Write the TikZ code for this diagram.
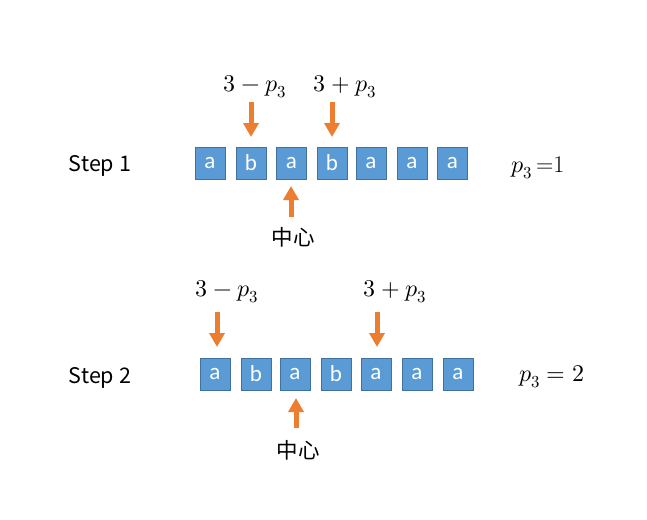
\documentclass[tikz,border=0pt]{standalone}
\usepackage{fontspec}
\usepackage{unicode-math}
\setmathfont{Latin Modern Math}
\setsansfont{Carlito}
\newfontfamily\cjk{Noto Sans CJK SC}
\usetikzlibrary{arrows.meta}
\definecolor{boxfill}{HTML}{5B9BD5}
\definecolor{boxline}{HTML}{41719C}
\definecolor{arr}{HTML}{ED7D31}
\begin{document}
\begin{tikzpicture}[x=1pt,y=-1pt,
  cell/.style={draw=boxline,fill=boxfill,line width=0.9pt,minimum width=30pt,minimum height=32pt,inner sep=0pt,text=white,font=\sffamily\fontsize{23}{25}\selectfont},
  lab/.style={font=\cjk\fontsize{21.5}{24}\selectfont,inner sep=0pt},
  mlab/.style={font=\fontsize{24}{26}\selectfont,inner sep=0pt},
  bigarrow/.style={draw=arr,line width=5pt,-{Triangle[width=15pt,length=14pt]}}]
\useasboundingbox (0,0) rectangle (647,519);
% Row 1
\node[lab] (s1) at (100,166) {Step 1};
\foreach \n/\x/\t in {1/210/a,2/251/b,3/291.5/a,4/332/b,5/371/a,6/412/a,7/452.5/a}
  \node[cell] (r1c\n) at (\x,163) {\t};
\node[mlab] (m1) at (255,87) {$3-p_3$};
\node[mlab] (p1) at (345,87) {$3+p_3$};
\node[lab] (c1) at (293,237) {中心};
\node[mlab,anchor=west] (q1) at (511,168) {$p_3$\,=1};
\coordinate (m1t) at (251,102);
\coordinate (p1t) at (332,102);
\coordinate (c1t) at (291,217);
\draw[bigarrow] (m1t) -- (251,137);
\draw[bigarrow] (p1t) -- (332,137);
\draw[bigarrow] (c1t) -- (291,186);
% Row 2
\node[lab] (s2) at (100,378) {Step 2};
\foreach \n/\x/\t in {1/215/a,2/256/b,3/295/a,4/336/b,5/376/a,6/417/a,7/458/a}
  \node[cell] (r2c\n) at (\x,374) {\t};
\node[mlab] (m2) at (227,292) {$3-p_3$};
\node[mlab] (p2) at (395,292) {$3+p_3$};
\node[lab] (c2) at (298,450) {中心};
\node[mlab,anchor=west] (q2) at (519,377) {$p_3=2$};
\coordinate (m2t) at (217,312);
\coordinate (p2t) at (377,312);
\coordinate (c2t) at (296,428);
\draw[bigarrow] (m2t) -- (217,347);
\draw[bigarrow] (p2t) -- (377,347);
\draw[bigarrow] (c2t) -- (296,398);
\end{tikzpicture}
\end{document}
